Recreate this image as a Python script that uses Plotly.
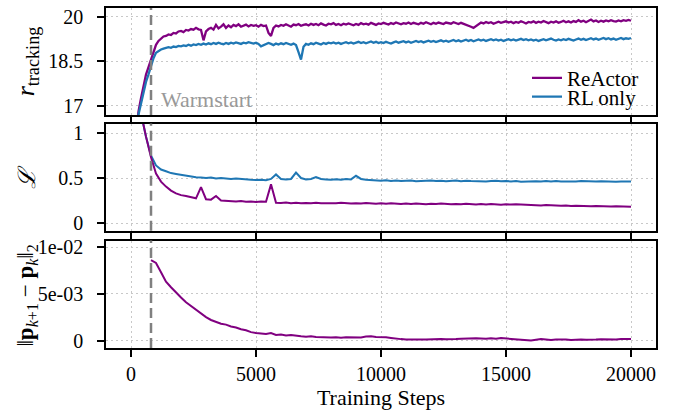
import plotly.graph_objects as go

# ---------------- data ----------------
steps_r = list(range(0, 20001, 100))
steps_l = list(range(0, 20001, 200))

reactor_r = [
    14.5, 15.3, 16.0, 16.8, 17.25, 17.7, 18.05, 18.3, 18.55, 18.85,
    19.05, 19.18, 19.27, 19.33, 19.35, 19.40, 19.38, 19.45, 19.43, 19.50,
    19.52, 19.48, 19.55, 19.53, 19.58, 19.56, 19.62, 19.57, 19.55, 19.20,
    19.50, 19.58, 19.62, 19.56, 19.72, 19.60, 19.66, 19.74, 19.62, 19.70,
    19.64, 19.72, 19.68, 19.74, 19.66, 19.70, 19.73, 19.67, 19.72, 19.69,
    19.71, 19.66, 19.72, 19.68, 19.70, 19.45, 19.35, 19.62, 19.70, 19.67,
    19.72, 19.69, 19.74, 19.70, 19.66, 19.73, 19.71, 19.75, 19.69, 19.72,
    19.74, 19.70, 19.76, 19.72, 19.75, 19.71, 19.77, 19.73, 19.70, 19.76,
    19.74, 19.78, 19.72, 19.75, 19.71, 19.76, 19.73, 19.77, 19.74, 19.71,
    19.75, 19.72, 19.78, 19.74, 19.76, 19.73, 19.79, 19.75, 19.72, 19.77,
    19.75, 19.79, 19.76, 19.73, 19.78, 19.75, 19.80, 19.77, 19.74, 19.78,
    19.76, 19.80, 19.75, 19.79, 19.77, 19.74, 19.79, 19.76, 19.81, 19.77,
    19.74, 19.79, 19.76, 19.80, 19.77, 19.75, 19.80, 19.78, 19.76, 19.81,
    19.78, 19.75, 19.79, 19.76, 19.74, 19.70, 19.66, 19.62, 19.68, 19.74,
    19.80, 19.77, 19.82, 19.78, 19.81, 19.76, 19.80, 19.83, 19.79, 19.81,
    19.84, 19.80, 19.83, 19.78, 19.82, 19.79, 19.84, 19.81, 19.77, 19.82,
    19.80, 19.84, 19.79, 19.83, 19.80, 19.85, 19.81, 19.78, 19.83, 19.80,
    19.84, 19.79, 19.82, 19.86, 19.81, 19.84, 19.80, 19.85, 19.82, 19.88,
    19.83, 19.86, 19.81, 19.85, 19.90, 19.84, 19.87, 19.82, 19.86, 19.83,
    19.87, 19.84, 19.88, 19.85, 19.83, 19.87, 19.84, 19.88, 19.86, 19.89,
    19.86,
]

rl_r = [
    14.0, 14.8, 15.7, 16.7, 17.1, 17.5, 17.8, 18.05, 18.35, 18.6,
    18.78, 18.85, 18.89, 18.92, 18.94, 18.97, 18.95, 18.99, 18.97, 19.01,
    19.00, 19.03, 19.01, 19.05, 19.02, 19.06, 19.04, 19.08, 19.05, 19.09,
    19.06, 19.10, 19.07, 19.11, 19.08, 19.12, 19.09, 19.07, 19.11, 19.08,
    19.12, 19.09, 19.13, 19.10, 19.08, 19.12, 19.10, 19.14, 19.11, 19.09,
    19.12, 19.08, 19.00, 19.03, 19.07, 19.11, 19.08, 19.04, 19.09, 19.06,
    19.10, 19.07, 19.11, 19.08, 19.05, 19.09, 19.04, 18.80, 18.55, 18.98,
    19.08, 19.05, 19.10, 19.07, 19.12, 19.09, 19.06, 19.11, 19.08, 19.12,
    19.10, 19.13, 19.09, 19.12, 19.08, 19.11, 19.14, 19.10, 19.13, 19.09,
    19.12, 19.15, 19.11, 19.14, 19.10, 19.13, 19.16, 19.12, 19.15, 19.11,
    19.14, 19.11, 19.15, 19.12, 19.09, 19.13, 19.16, 19.12, 19.14, 19.17,
    19.13, 19.16, 19.12, 19.15, 19.18, 19.14, 19.17, 19.13, 19.16, 19.19,
    19.15, 19.18, 19.14, 19.17, 19.20, 19.16, 19.19, 19.15, 19.18, 19.21,
    19.17, 19.20, 19.16, 19.19, 19.22, 19.18, 19.21, 19.17, 19.20, 19.23,
    19.19, 19.22, 19.18, 19.21, 19.24, 19.20, 19.23, 19.19, 19.22, 19.18,
    19.21, 19.24, 19.20, 19.23, 19.19, 19.22, 19.25, 19.21, 19.24, 19.20,
    19.23, 19.19, 19.22, 19.18, 19.21, 19.24, 19.20, 19.23, 19.26, 19.22,
    19.19, 19.23, 19.20, 19.24, 19.21, 19.25, 19.22, 19.19, 19.23, 19.26,
    19.22, 19.25, 19.21, 19.24, 19.27, 19.23, 19.26, 19.22, 19.25, 19.28,
    19.24, 19.27, 19.23, 19.26, 19.22, 19.25, 19.28, 19.24, 19.27, 19.25,
    19.28,
]

reactor_loss = [
    2.2, 1.75, 1.22, 0.96, 0.73, 0.55, 0.46, 0.405, 0.36, 0.33,
    0.31, 0.30, 0.285, 0.275, 0.40, 0.265, 0.26, 0.30, 0.25, 0.245,
    0.245, 0.24, 0.245, 0.238, 0.24, 0.235, 0.24, 0.236, 0.43, 0.225,
    0.222, 0.228, 0.22, 0.225, 0.219, 0.224, 0.22, 0.226, 0.221, 0.218,
    0.223, 0.219, 0.225, 0.22, 0.216, 0.221, 0.217, 0.222, 0.218, 0.214,
    0.219, 0.215, 0.22, 0.216, 0.212, 0.217, 0.213, 0.218, 0.214, 0.21,
    0.215, 0.211, 0.216, 0.212, 0.208, 0.213, 0.209, 0.214, 0.21, 0.206,
    0.211, 0.207, 0.212, 0.208, 0.204, 0.209, 0.205, 0.21, 0.206, 0.2,
    0.204, 0.2, 0.196, 0.2, 0.195, 0.198, 0.193, 0.196, 0.19, 0.193,
    0.188, 0.191, 0.186, 0.19, 0.185, 0.188, 0.183, 0.186, 0.182, 0.185,
    0.18,
]

rl_loss = [
    2.2, 1.75, 1.22, 0.96, 0.75, 0.64, 0.595, 0.575, 0.555, 0.545,
    0.535, 0.525, 0.515, 0.51, 0.505, 0.50, 0.505, 0.495, 0.50, 0.495,
    0.49, 0.495, 0.488, 0.485, 0.48, 0.478, 0.482, 0.476, 0.49, 0.54,
    0.49, 0.485, 0.49, 0.56, 0.50, 0.485, 0.49, 0.51, 0.49, 0.485,
    0.48, 0.487, 0.482, 0.49, 0.485, 0.525, 0.49, 0.48, 0.475, 0.472,
    0.47, 0.475, 0.468, 0.472, 0.466, 0.47, 0.474, 0.465, 0.47, 0.467,
    0.472, 0.466, 0.47, 0.464, 0.468, 0.472, 0.465, 0.47, 0.466, 0.463,
    0.468, 0.462, 0.466, 0.47, 0.464, 0.468, 0.462, 0.466, 0.46, 0.464,
    0.46, 0.465, 0.461, 0.466, 0.462, 0.467, 0.463, 0.46, 0.464, 0.461,
    0.466, 0.462, 0.465, 0.461, 0.464, 0.46, 0.463, 0.459, 0.462, 0.46,
    0.463,
]

reactor_dp = [
    None, None, None, None, 0.0086, 0.0083, 0.0073, 0.0063, 0.0057, 0.0051,
    0.0046, 0.0041, 0.0037, 0.0033, 0.0029, 0.0025, 0.0022, 0.0020, 0.0018, 0.0017,
    0.0015, 0.0014, 0.0012, 0.0011, 0.0009, 0.0008, 0.00075, 0.0007, 0.0008, 0.0006,
    0.00065, 0.00055, 0.0006, 0.0005, 0.00045, 0.0004, 0.00045, 0.00038, 0.00035, 0.0004,
    0.00032, 0.00035, 0.0003, 0.00034, 0.00031, 0.00036, 0.00033, 0.00042, 0.00045, 0.00038,
    0.0004, 0.00035, 0.00028, 0.0002, 0.00015, 0.00012, 0.0001, 0.00014, 0.0001, 0.00012,
    0.00015, 0.00012, 0.00016, 0.00013, 0.00018, 0.00015, 0.0002, 0.00022, 0.00028, 0.00024,
    0.00022, 0.00018, 0.00024, 0.0002, 0.00026, 0.00022, 0.00018, 0.00015, 0.0001, 0.00005,
    0.0, 0.00008, 0.00015, 0.0001, 0.00006, 0.00012, 0.00015, 0.0001, 0.00005, 0.0001,
    0.00012, 0.00008, 0.00013, 0.0001, 0.00014, 0.00011, 0.00015, 0.00012, 0.00016, 0.00014,
    0.00016,
]

warmstart_step = 800
x_ticks = [0, 5000, 10000, 15000, 20000]
y1_ticks = [17, 18.5, 20]
y1_labels = ["17", "18.5", "20"]
y2_ticks = [0, 0.5, 1]
y2_labels = ["0", "0.5", "1"]
y3_ticks = [0, 0.005, 0.01]
y3_labels = ["0", "5e-03", "1e-02"]

# ---------------- figure ----------------
PURPLE = "#800080"
BLUE = "#1f77b4"
FONT = "Liberation Serif, Times New Roman, serif"

fig = go.Figure()
fig.add_trace(go.Scatter(x=steps_r, y=reactor_r, mode="lines", name="ReActor",
                         line=dict(color=PURPLE, width=2.3), xaxis="x", yaxis="y",
                         legend="legend"))
fig.add_trace(go.Scatter(x=steps_r, y=rl_r, mode="lines", name="RL only",
                         line=dict(color=BLUE, width=2.3), xaxis="x", yaxis="y",
                         legend="legend2"))
fig.add_trace(go.Scatter(x=steps_l, y=rl_loss, mode="lines", showlegend=False,
                         line=dict(color=BLUE, width=2), xaxis="x2", yaxis="y2"))
fig.add_trace(go.Scatter(x=steps_l, y=reactor_loss, mode="lines", showlegend=False,
                         line=dict(color=PURPLE, width=2), xaxis="x2", yaxis="y2"))
fig.add_trace(go.Scatter(x=steps_l, y=reactor_dp, mode="lines", showlegend=False,
                         line=dict(color=PURPLE, width=2), xaxis="x3", yaxis="y3"))

axis_common = dict(showline=True, mirror=True, linecolor="black", linewidth=1.5,
                   ticks="outside", ticklen=7, tickwidth=1.5, tickcolor="black",
                   showgrid=True, gridcolor="#c8c8c8", gridwidth=1, griddash="2px,3px",
                   zeroline=False, tickfont=dict(family=FONT, size=20, color="black"))

xcommon = dict(axis_common, range=[-1000, 21000], tickvals=x_ticks)
legend_common = dict(xanchor="left", yanchor="middle", bgcolor="rgba(255,255,255,0)",
                     borderwidth=0, font=dict(family=FONT, size=21, color="black"),
                     itemwidth=30)
fig.update_layout(
    xaxis=dict(xcommon, anchor="y", showticklabels=False),
    xaxis2=dict(xcommon, anchor="y2", showticklabels=False, matches="x"),
    xaxis3=dict(xcommon, anchor="y3", matches="x",
                tickvals=x_ticks, ticktext=[str(v) for v in x_ticks],
                title=dict(text="Training Steps", font=dict(family=FONT, size=22, color="black"),
                           standoff=6)),
    yaxis=dict(axis_common, domain=[0.685, 1.0], range=[16.68, 20.29],
               tickvals=y1_ticks, ticktext=y1_labels, ticklabelstandoff=10),
    yaxis2=dict(axis_common, domain=[0.345, 0.660], range=[-0.085, 1.105],
                tickvals=y2_ticks, ticktext=y2_labels, ticklabelstandoff=10),
    yaxis3=dict(axis_common, domain=[0.0, 0.316], range=[-0.0008, 0.0107],
                tickvals=y3_ticks, ticktext=y3_labels, ticklabelstandoff=10),
    width=676, height=415,
    margin=dict(l=106, r=20, t=4, b=67),
    plot_bgcolor="white", paper_bgcolor="white",
    font=dict(family=FONT, size=20, color="black"),
    legend=dict(legend_common, x=(527 - 106) / 550, y=(348 - 75) / 344),
    legend2=dict(legend_common, x=(527 - 106) / 550, y=(348 - 94) / 344),
    showlegend=True,
)

for ya in ["y", "y2", "y3"]:
    fig.add_shape(type="line", xref="x", yref=f"{ya} domain",
                  x0=warmstart_step, x1=warmstart_step, y0=0, y1=1,
                  line=dict(color="#808080", width=2.5, dash="10px,5px"), layer="above")

fig.add_annotation(x=warmstart_step, y=17, xref="x", yref="y", text="Warmstart",
                   showarrow=False, xanchor="left", yanchor="middle", xshift=8, yshift=6,
                   font=dict(family=FONT, size=22, color="#999999"))

ylab_x = (27 - 106) / 550
fig.add_annotation(x=ylab_x, y=(348 - 58) / 344, xref="paper", yref="paper",
                   text="<i>r</i><sub>tracking</sub>", textangle=-90, showarrow=False,
                   xanchor="center", yanchor="middle",
                   font=dict(family=FONT, size=26, color="black"))
fig.add_annotation(x=ylab_x, y=(348 - 175) / 344, xref="paper", yref="paper",
                   text="<i>ℒ</i>", textangle=-90, showarrow=False,
                   xanchor="center", yanchor="middle",
                   font=dict(family=FONT, size=24, color="black"))
fig.add_annotation(x=ylab_x, y=(348 - 295) / 344, xref="paper", yref="paper",
                   text="‖<b>p</b><sub><i>k</i>+1</sub> − <b>p</b><sub><i>k</i></sub>‖<sub>2</sub>",
                   textangle=-90, showarrow=False,
                   xanchor="center", yanchor="middle",
                   font=dict(family=FONT, size=23, color="black"))

fig.write_html("out.html", config={"displayModeBar": False},
               post_script="document.body.style.margin='0px';")
